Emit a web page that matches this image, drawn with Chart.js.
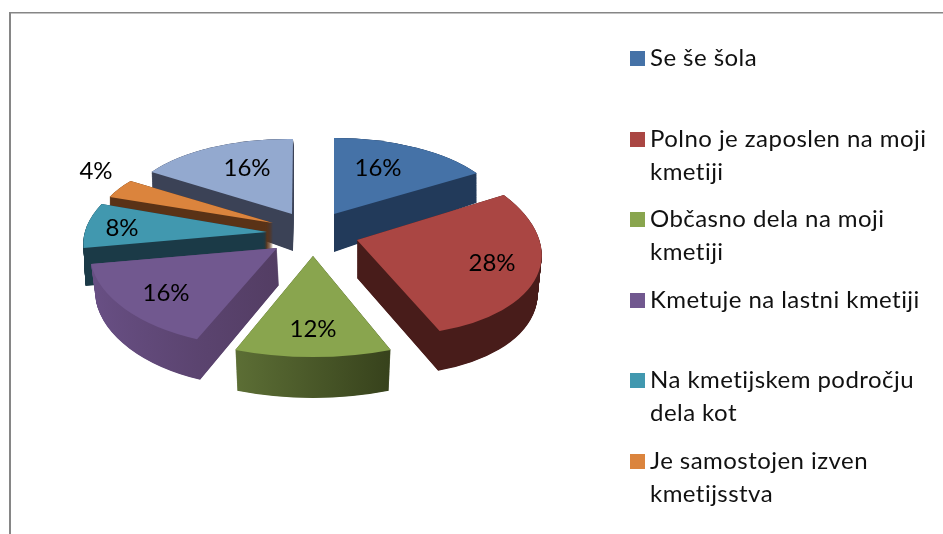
<!DOCTYPE html>
<html><head><meta charset="utf-8">
<style>html,body{margin:0;padding:0;background:#fff}#w{position:relative;width:943px;height:534px}</style>
<script src="https://cdn.jsdelivr.net/npm/chart.js@4"></script>
</head><body><div id="w"><canvas id="c" width="943" height="534"></canvas></div>
<script>
const categories = ["Se še šola","Polno je zaposlen na moji kmetiji","Občasno dela na moji kmetiji","Kmetuje na lastni kmetiji","Na kmetijskem področju dela kot","Je samostojen izven kmetijsstva",""];
const values = [16,28,12,16,8,4,16];
const percentLabels = ["16%","28%","12%","16%","8%","4%","16%"];
const topColors = ["#4572a7","#aa4643","#89a54e","#71588f","#4198af","#db843d","#93a9cf"];
const wallLeft = ["#223a5a","#481c1a","#5c6e35","#684f84","#1b3a47","#5a3216","#3b4256"];
const wallRight = ["#223a5a","#481c1a","#37421c","#533d63","#1b3a47","#5a3216","#3b4256"];
const legendLines = [["Se še šola"],["Polno je zaposlen na moji","kmetiji"],["Občasno dela na moji","kmetiji"],["Kmetuje na lastni kmetiji"],["Na kmetijskem področju","dela kot"],["Je samostojen izven","kmetijsstva"]];

// projection of each exploded slice (perspective look of the original 3D pie)
const views = [
 {px:334,py:214,rx:169,ry:76,kx:0,ky:0,depth:38,drx:0,dry:16,dpx:0,lab:[44,-46]},
 {px:357,py:240,rx:184,ry:95,kx:16,ky:7,depth:38,drx:-4,dry:2,dpx:0,lab:[135,23]},
 {px:313,py:256,rx:211,ry:101,kx:0,ky:0,depth:40,drx:-5,dry:1,dpx:0,lab:[0,73]},
 {px:277,py:248,rx:187,ry:99,kx:-12,ky:2.5,depth:37,drx:-3,dry:4,dpx:2,lab:[-111,45]},
 {px:267,py:232,rx:182,ry:89,kx:-25,ky:0.6,depth:38,drx:-2,dry:0,dpx:0,lab:[-145,-4]},
 {px:273,py:223,rx:175,ry:72,kx:-10,ky:4,depth:38,drx:0,dry:0,dpx:0,lab:[-177,-52]},
 {px:292,py:214,rx:167,ry:75,kx:-1,ky:2,depth:37,drx:0,dry:16,dpx:1,lab:[-45,-46]}
];
const drawOrder = [6,0,5,4,3,1,2];
const legendLayout = {boxX:630,boxSize:15,textX:650,firstBaseline:[66,147,227,308,388,469],lineGap:33};
const FONT = '24px Lato';
const R = 100;

const pie3d = {
 id:'pie3d',
 beforeDraw(chart){
  const c = chart.ctx; c.save();
  c.fillStyle='#fff'; c.fillRect(0,0,chart.width,chart.height);
  c.fillStyle='#868686'; c.fillRect(9,12,chart.width-9,1.5); c.fillRect(9,12,2,chart.height-12);
  c.restore();
 },
 beforeDatasetsDraw(chart){
  const c = chart.ctx, arcs = chart.getDatasetMeta(0).data;
  const apply = (a,v,t)=>{
    const px=v.px+t*v.dpx, py=v.py+t*v.depth, rx=v.rx+t*v.drx, ry=v.ry+t*v.dry;
    c.transform(rx/R, v.ky/R, v.kx/R, ry/R, px-(rx*a.x+v.kx*a.y)/R, py-(v.ky*a.x+ry*a.y)/R);
  };
  const paint = (a,fill,v,t)=>{
    const o = a.options;
    a.options = Object.assign(Object.create(o),{backgroundColor:fill,borderWidth:0});
    c.save(); apply(a,v,t); a.draw(c); c.restore();
    a.options = o;
  };
  for(const i of drawOrder){
    const a = arcs[i], v = views[i];
    const s = a.startAngle+Math.PI/2, e = a.endAngle+Math.PI/2;
    let lo=0, hi=0;
    for(let k=0;k<=40;k++){const u=Math.sin(s+(e-s)*k/40); lo=Math.min(lo,u); hi=Math.max(hi,u);}
    const g = c.createLinearGradient(a.x+lo*R,0,a.x+hi*R,0);
    g.addColorStop(0,wallLeft[i]); g.addColorStop(1,wallRight[i]);
    for(let d=v.depth;d>=0;d-=0.5) paint(a,g,v,d/v.depth);
    paint(a,topColors[i],v,0);
  }
  return false;
 },
 afterDraw(chart){
  const c = chart.ctx; c.save();
  c.font=FONT; c.fillStyle='#000'; c.textBaseline='middle'; c.textAlign='center';
  percentLabels.forEach((t,i)=>c.fillText(t,views[i].px+views[i].lab[0],views[i].py+views[i].lab[1]));
  c.textAlign='left'; c.textBaseline='alphabetic'; c.letterSpacing='0.45px';
  legendLines.forEach((lines,i)=>{
    const b = legendLayout.firstBaseline[i];
    c.fillStyle=topColors[i]; c.fillRect(legendLayout.boxX,b-legendLayout.boxSize,legendLayout.boxSize,legendLayout.boxSize);
    c.fillStyle='#111';
    lines.forEach((l,k)=>c.fillText(l,legendLayout.textX,b+k*legendLayout.lineGap));
  });
  c.restore();
 }
};

new Chart(document.getElementById('c'),{
 type:'pie',
 data:{labels:categories,datasets:[{data:values,backgroundColor:topColors,borderWidth:0}]},
 options:{responsive:false,animation:false,radius:R,layout:{padding:0},
  plugins:{legend:{display:false},tooltip:{enabled:false}}},
 plugins:[pie3d]
});
</script></body></html>
